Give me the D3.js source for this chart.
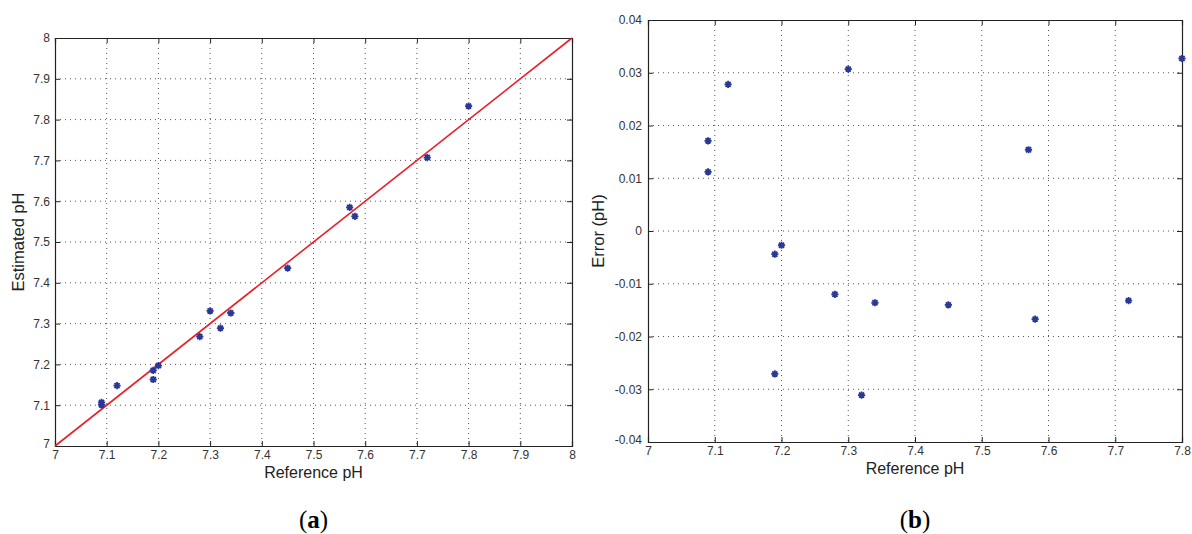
<!DOCTYPE html>
<html><head><meta charset="utf-8">
<script src="https://cdn.jsdelivr.net/npm/d3@7/dist/d3.min.js"></script>
<style>
body{margin:0;background:#fff;}
svg{display:block;}
</style></head>
<body>
<svg id="c" width="1192" height="534"></svg>
<script>
// ---- data ----
const referencePH = [7.09, 7.09, 7.12, 7.19, 7.19, 7.20, 7.28, 7.30, 7.32, 7.34, 7.45, 7.57, 7.58, 7.72, 7.80];
const estimatedPH = [7.107, 7.101, 7.148, 7.1855, 7.163, 7.197, 7.268, 7.331, 7.289, 7.326, 7.436, 7.585, 7.563, 7.707, 7.833];
const errorPH     = [0.0171, 0.0112, 0.0278, -0.0044, -0.0271, -0.0027, -0.0120, 0.0307, -0.0311, -0.0136, -0.0140, 0.0154, -0.0167, -0.0132, 0.0327];
const idealLine   = [[7, 7], [8, 8]];
const xTicksA = [7, 7.1, 7.2, 7.3, 7.4, 7.5, 7.6, 7.7, 7.8, 7.9, 8];
const yTicksA = [7, 7.1, 7.2, 7.3, 7.4, 7.5, 7.6, 7.7, 7.8, 7.9, 8];
const xTicksB = [7, 7.1, 7.2, 7.3, 7.4, 7.5, 7.6, 7.7, 7.8];
const yTicksB = [-0.04, -0.03, -0.02, -0.01, 0, 0.01, 0.02, 0.03, 0.04];

const svg = d3.select("#c");
const FONT = "'Liberation Sans', Arial, Helvetica, sans-serif";
const MARK = "#2a3896";

function asterisk(g, x, y) {
  const r = 3.6, d = r * 0.7071;
  const p = `M${x-r},${y}L${x+r},${y}M${x},${y-r}L${x},${y+r}M${x-d},${y-d}L${x+d},${y+d}M${x-d},${y+d}L${x+d},${y-d}`;
  g.append("path").attr("d", p).attr("stroke", MARK).attr("stroke-width", 1.8).attr("fill", "none");
  g.append("circle").attr("cx", x).attr("cy", y).attr("r", 2.3).attr("fill", MARK);
}

function panel(opts) {
  const {x0, x1, y0, y1, xDom, yDom, xTicks, yTicks, xFmt, yFmt, xTitle, yTitle, yTitleX, yPad, caption} = opts;
  const xs = d3.scaleLinear().domain(xDom).range([x0, x1]);
  const ys = d3.scaleLinear().domain(yDom).range([y1, y0]);
  const g = svg.append("g");
  // grid
  const grid = g.append("g");
  xTicks.slice(1, -1).forEach(t => {
    grid.append("line").attr("x1", xs(t)).attr("x2", xs(t)).attr("y1", y0).attr("y2", y1)
      .attr("stroke", "#555").attr("stroke-width", 1).attr("stroke-dasharray", "1,4");
  });
  yTicks.slice(1, -1).forEach(t => {
    grid.append("line").attr("x1", x0).attr("x2", x1).attr("y1", ys(t)).attr("y2", ys(t))
      .attr("stroke", "#555").attr("stroke-width", 1).attr("stroke-dasharray", "1,4");
  });
  // axes (inward ticks)
  const axB = d3.axisBottom(xs).tickValues(xTicks).tickSize(-5).tickPadding(4).tickFormat(xFmt);
  const axT = d3.axisTop(xs).tickValues(xTicks).tickSize(-5).tickFormat("");
  const axL = d3.axisLeft(ys).tickValues(yTicks).tickSize(-5).tickPadding(yPad).tickFormat(yFmt);
  const axR = d3.axisRight(ys).tickValues(yTicks).tickSize(-5).tickFormat("");
  const styleAx = sel => {
    sel.selectAll("path.domain").attr("stroke", "#222").attr("stroke-width", 1.2);
    sel.selectAll(".tick line").attr("stroke", "#222");
    sel.selectAll("text").attr("fill", "#333").style("font-family", FONT).style("font-size", "12px");
  };
  g.append("g").attr("transform", `translate(0,${y1})`).call(axB).call(styleAx);
  g.append("g").attr("transform", `translate(0,${y0})`).call(axT).call(styleAx);
  const gl = g.append("g").attr("transform", `translate(${x0},0)`).call(axL).call(styleAx);
  g.append("g").attr("transform", `translate(${x1},0)`).call(axR).call(styleAx);
  gl.selectAll(".tick").filter(d => d === yTicks[0]).select("text").attr("dy", "0.1em");
  // titles
  g.append("text").attr("x", (x0 + x1) / 2).attr("y", y1 + 32).attr("text-anchor", "middle")
    .style("font-family", FONT).style("font-size", "16px").attr("fill", "#222").text(xTitle);
  g.append("text").attr("transform", `translate(${yTitleX},${(y0 + y1) / 2}) rotate(-90)`)
    .attr("text-anchor", "middle").style("font-family", FONT).style("font-size", "16.5px").attr("fill", "#222").text(yTitle);
  const cap = g.append("text").attr("x", (x0 + x1) / 2).attr("y", 528).attr("text-anchor", "middle")
    .style("font-family", "'Liberation Serif', 'Times New Roman', serif").style("font-size", "25px").attr("fill", "#000");
  cap.append("tspan").text("(");
  cap.append("tspan").attr("font-weight", "bold").text(caption);
  cap.append("tspan").text(")");
  return {g, xs, ys};
}

// Panel (a)
const A = panel({x0: 55, x1: 572, y0: 38, y1: 446, xDom: [7, 8], yDom: [7, 8],
  xTicks: xTicksA, yTicks: yTicksA, xFmt: d3.format(""), yFmt: d3.format(""),
  xTitle: "Reference pH", yTitle: "Estimated pH", yTitleX: 24, yPad: 5, caption: "a"});
const line = d3.line().x(d => A.xs(d[0])).y(d => A.ys(d[1]));
A.g.append("path").attr("d", line(idealLine)).attr("stroke", "#e8202a").attr("stroke-width", 1.6).attr("fill", "none");
const mA = A.g.append("g");
referencePH.forEach((r, i) => asterisk(mA, A.xs(r), A.ys(estimatedPH[i])));

// Panel (b)
const B = panel({x0: 648, x1: 1182, y0: 20, y1: 442, xDom: [7, 7.8], yDom: [-0.04, 0.04],
  xTicks: xTicksB, yTicks: yTicksB, xFmt: d3.format(""), yFmt: d => d === 0 ? "0" : d3.format(".2f")(d).replace("−", "-"),
  xTitle: "Reference pH", yTitle: "Error (pH)", yTitleX: 604, yPad: 6, caption: "b"});
const mB = B.g.append("g");
referencePH.forEach((r, i) => asterisk(mB, B.xs(r), B.ys(errorPH[i])));
</script>
</body></html>
